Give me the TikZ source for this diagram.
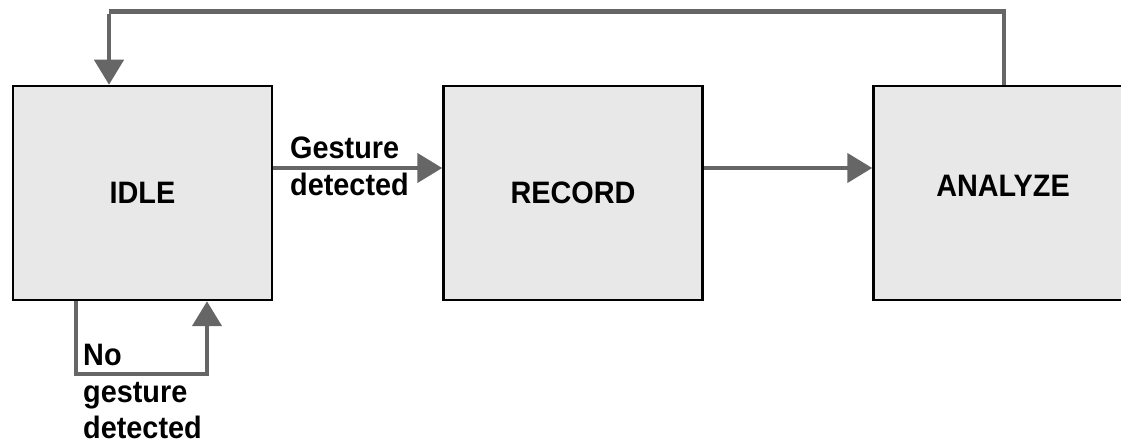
\documentclass[tikz,border=0pt]{standalone}
\usepackage{fontspec}
\setmainfont{Liberation Sans}[FakeStretch=0.93]
\usetikzlibrary{arrows.meta}
\definecolor{boxfill}{HTML}{E8E8E8}
\definecolor{flow}{HTML}{666666}
\tikzset{
  state/.style={draw=black, line width=2.5pt, fill=boxfill, rectangle,
    minimum width=259pt, minimum height=214pt, inner sep=0pt,
    font=\fontsize{31}{37}\selectfont\bfseries},
  flowline/.style={draw=flow, line width=4.5pt,
    -{Triangle[width=29pt,length=25pt]}},
  flowplain/.style={draw=flow, line width=4.5pt},
  tag/.style={inner sep=0pt, align=left, anchor=north west,
    font=\fontsize{31}{36.5}\selectfont\bfseries}
}
\begin{document}
\begin{tikzpicture}[x=1pt, y=-1pt]
  \useasboundingbox (0,0) rectangle (1121,443);

  % the three states
  \node[state] (idle)    at (142.5,193) {IDLE};
  \node[state] (record)  at (573,193)   {RECORD};
  \node[state] (analyze) at (1003,193)  {};
  \node[inner sep=0pt, font=\fontsize{31}{37}\selectfont\bfseries] (analyzetxt) at (1003,186) {ANALYZE};

  % forward transitions
  \draw[flowline] (idle.east |- 0,168) -- (record.west |- 0,168);
  \draw[flowline] (record.east |- 0,168) -- (analyze.west |- 0,168);
  \node[tag] (gest) at (290,137) {Gesture\\detected};

  % return from ANALYZE to IDLE over the top
  \coordinate (rtop) at (1004,11.5);
  \coordinate (ltop) at (109,11.5);
  \draw[flowplain] (analyze.north -| rtop) -- (rtop) -- (ltop);
  \draw[flowline] ([yshift=-2.25pt]ltop) -- (idle.north -| ltop);

  % self loop below IDLE
  \coordinate (la) at (76,374);
  \coordinate (lb) at (207,374);
  \draw[flowline] (idle.south -| la) -- (la) -- (lb) -- (idle.south -| lb);
  \node[tag] (nogest) at (83,344) {No\\gesture\\detected};
\end{tikzpicture}
\end{document}
